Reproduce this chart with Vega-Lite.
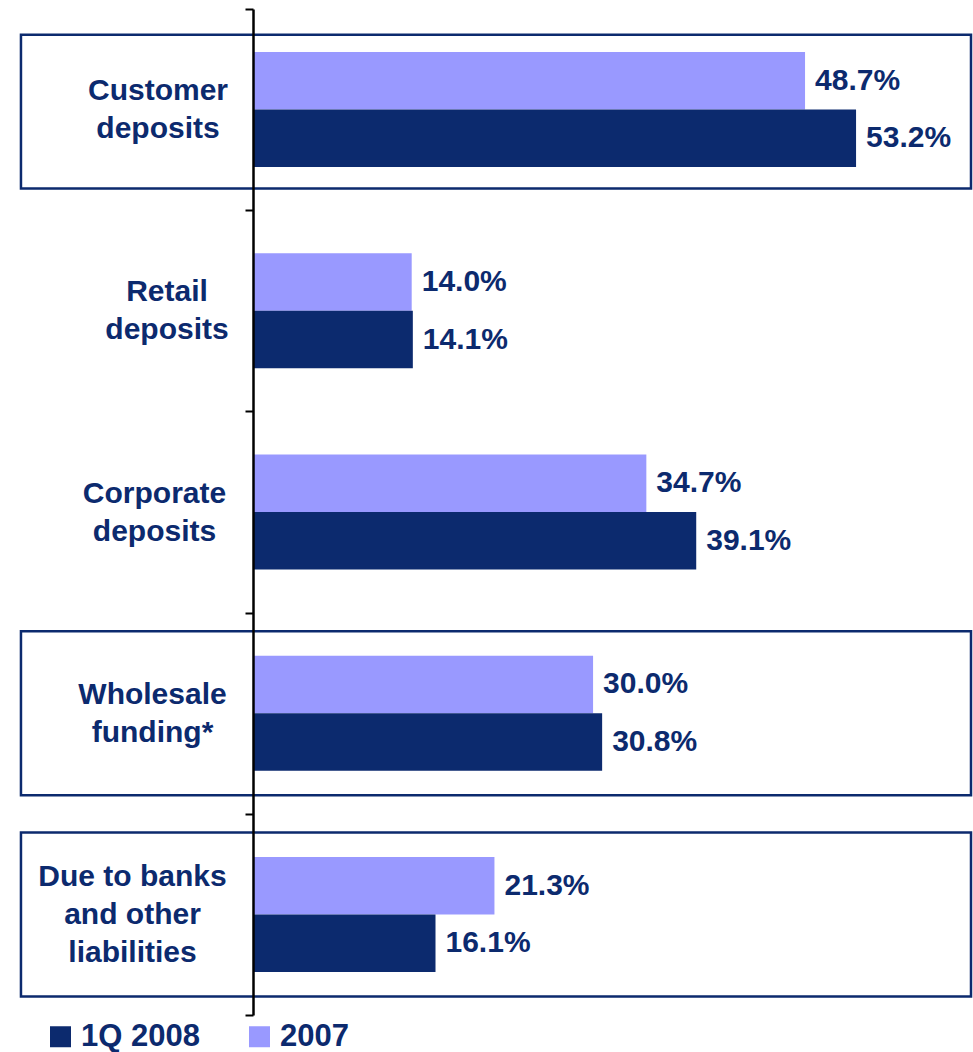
{
  "$schema": "https://vega.github.io/schema/vega-lite/v6.json",
  "width": 718,
  "height": 1006,
  "autosize": "none",
  "padding": {"left": 253, "top": 9, "right": 2, "bottom": 37},
  "background": "white",
  "config": {"view": {"stroke": null}, "font": "Liberation Sans"},
  "data": {
    "values": [
      {"category": "Customer deposits", "series": "2007", "value": 0.487},
      {"category": "Customer deposits", "series": "1Q 2008", "value": 0.532},
      {"category": "Retail deposits", "series": "2007", "value": 0.140},
      {"category": "Retail deposits", "series": "1Q 2008", "value": 0.141},
      {"category": "Corporate deposits", "series": "2007", "value": 0.347},
      {"category": "Corporate deposits", "series": "1Q 2008", "value": 0.391},
      {"category": "Wholesale funding*", "series": "2007", "value": 0.300},
      {"category": "Wholesale funding*", "series": "1Q 2008", "value": 0.308},
      {"category": "Due to banks and other liabilities", "series": "2007", "value": 0.213},
      {"category": "Due to banks and other liabilities", "series": "1Q 2008", "value": 0.161}
    ]
  },
  "encoding": {
    "y": {
      "field": "category",
      "type": "nominal",
      "title": null,
      "scale": {
        "domain": ["Customer deposits", "Retail deposits", "Corporate deposits", "Wholesale funding*", "Due to banks and other liabilities"],
        "paddingInner": 0,
        "paddingOuter": 0
      },
      "axis": {
        "zindex": 1,
        "domainColor": "black",
        "domainWidth": 2.5,
        "tickColor": "black",
        "tickWidth": 2,
        "tickSize": 8,
        "tickBand": "extent",
        "labelFont": "Liberation Sans",
        "labelFontSize": 30,
        "labelFontWeight": "bold",
        "labelColor": "#0C2A6E",
        "labelAlign": "center",
        "labelBaseline": "middle",
        "labelLineHeight": 38,
        "labelLimit": 0,
        "labelExpr": "!isString(datum.value) ? '' : datum.value == 'Due to banks and other liabilities' ? ['Due to banks', 'and other', 'liabilities'] : split(datum.value, ' ')",
        "labelOffset": {
          "condition": {"test": "datum.value == 'Due to banks and other liabilities'", "value": -38},
          "value": -19
        },
        "labelPadding": {
          "condition": [
            {"test": "datum.value == 'Customer deposits'", "value": 87.5},
            {"test": "datum.value == 'Retail deposits'", "value": 78.5},
            {"test": "datum.value == 'Corporate deposits'", "value": 91},
            {"test": "datum.value == 'Wholesale funding*'", "value": 93}
          ],
          "value": 113
        }
      }
    }
  },
  "layer": [
    {
      "data": {"values": [{"category": "Customer deposits"}]},
      "mark": {"type": "bar", "height": {"band": 0.765}, "yOffset": 2, "fill": "white", "fillOpacity": 0, "stroke": "#0C2A6E", "strokeWidth": 2.5},
      "encoding": {
        "x": {"datum": -0.2047, "type": "quantitative", "scale": {"domain": [0, 0.6334], "nice": false, "zero": true}, "axis": null},
        "x2": {"datum": 0.6334}
      }
    },
    {
      "data": {
        "values": [
          {"category": "Wholesale funding*"},
          {"category": "Due to banks and other liabilities"}
        ]
      },
      "mark": {"type": "bar", "height": {"band": 0.815}, "fill": "white", "fillOpacity": 0, "stroke": "#0C2A6E", "strokeWidth": 2.5},
      "encoding": {
        "x": {"datum": -0.2047, "type": "quantitative", "scale": {"domain": [0, 0.6334], "nice": false, "zero": true}, "axis": null},
        "x2": {"datum": 0.6334}
      }
    },
    {
      "mark": {"type": "bar"},
      "encoding": {
        "x": {"field": "value", "type": "quantitative", "scale": {"domain": [0, 0.6334], "nice": false, "zero": true}, "axis": null},
        "yOffset": {"field": "series", "type": "nominal", "scale": {"domain": ["2007", "1Q 2008"], "paddingInner": 0, "paddingOuter": 0.75}},
        "color": {
          "field": "series",
          "type": "nominal",
          "scale": {"domain": ["1Q 2008", "2007"], "range": ["#0C2A6E", "#9999FF"]},
          "legend": {
            "orient": "none",
            "legendX": -208,
            "legendY": 1012,
            "direction": "horizontal",
            "title": null,
            "symbolType": "square",
            "symbolSize": 441,
            "symbolStrokeWidth": 0,
            "symbolOpacity": 1,
            "labelFont": "Liberation Sans",
            "labelFontSize": 31,
            "labelFontWeight": "bold",
            "labelColor": "#0C2A6E",
            "labelOffset": 5,
            "columnPadding": 44,
            "padding": 0
          }
        }
      }
    },
    {
      "mark": {"type": "text", "align": "left", "baseline": "middle", "dx": 10, "font": "Liberation Sans", "fontSize": 30, "fontWeight": "bold", "color": "#0C2A6E"},
      "encoding": {
        "x": {"field": "value", "type": "quantitative", "scale": {"domain": [0, 0.6334], "nice": false, "zero": true}, "axis": null},
        "yOffset": {"field": "series", "type": "nominal", "scale": {"domain": ["2007", "1Q 2008"], "paddingInner": 0, "paddingOuter": 0.75}},
        "text": {"field": "value", "type": "quantitative", "format": ".1%"}
      }
    }
  ]
}
